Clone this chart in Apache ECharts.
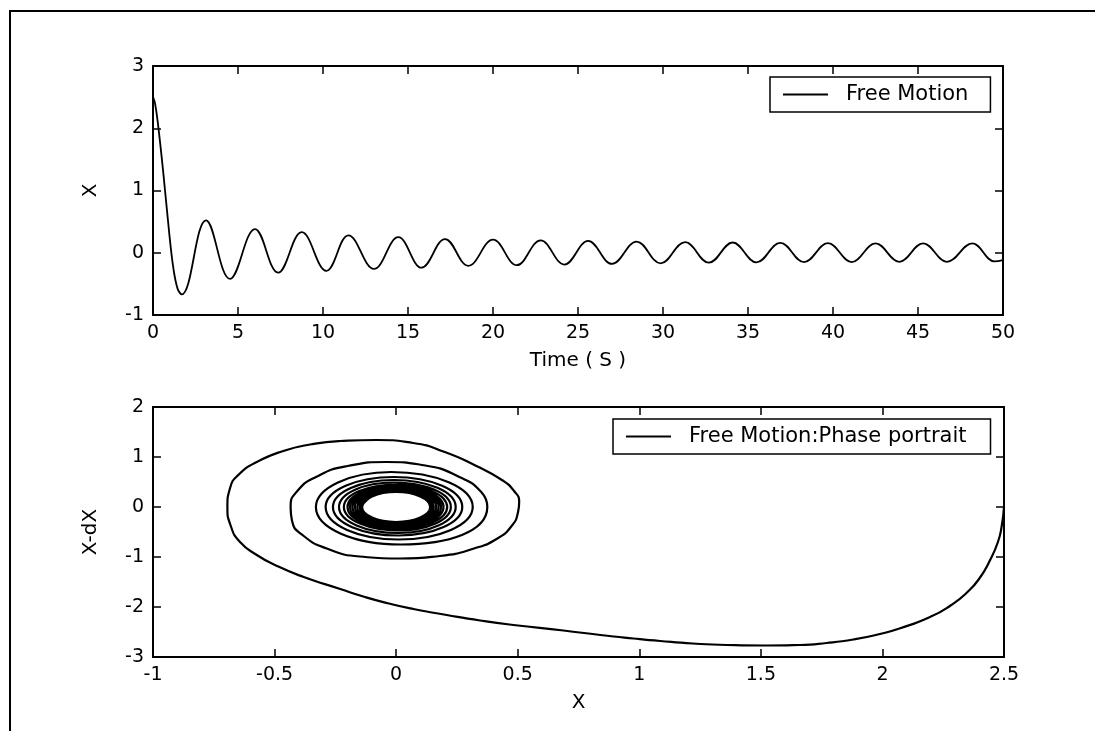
<!DOCTYPE html>
<html>
<head>
<meta charset="utf-8">
<script src="https://cdn.jsdelivr.net/npm/echarts@6/dist/echarts.min.js"></script>
<style>
html, body { margin: 0; padding: 0; background: #fff; }
#chart { width: 1095px; height: 731px; }
</style>
</head>
<body>
<div id="chart"></div>
<script>
// free motion x(t): start of the fall, then each peak / trough
var timeResponse = [
  [0, 2.5], [0.12, 2.4], [0.3, 2.05], [0.6, 1.3], [0.96, 0.3], [1.2, -0.25], [1.45, -0.58], [1.69, -0.67],
  [3.12, 0.52], [4.53, -0.42], [6.0, 0.38], [7.36, -0.32], [8.75, 0.33], [10.2, -0.29],
  [11.5, 0.28], [13.0, -0.26], [14.43, 0.25], [15.8, -0.24], [17.18, 0.22], [18.55, -0.21],
  [20.0, 0.21], [21.4, -0.2], [22.8, 0.2], [24.2, -0.19], [25.6, 0.19], [27.0, -0.18],
  [28.45, 0.18], [29.86, -0.17], [31.3, 0.17], [32.7, -0.16], [34.1, 0.165], [35.5, -0.155],
  [36.9, 0.16], [38.3, -0.15], [39.7, 0.155], [41.1, -0.15], [42.5, 0.15], [43.9, -0.145],
  [45.3, 0.15], [46.7, -0.145], [48.2, 0.15], [49.5, -0.14], [50, -0.12]
];

// phase portrait (x, dx): the big first swing, traced point by point
var phaseSwing = [
  [2.5, 0], [2.49, -0.4], [2.475, -0.7], [2.443, -1.06], [2.4, -1.42], [2.35, -1.7], [2.28, -1.97],
  [2.196, -2.2], [2.07, -2.43], [1.99, -2.54], [1.88, -2.65], [1.77, -2.72], [1.66, -2.76],
  [1.52, -2.77], [1.36, -2.76], [1.22, -2.73], [1.086, -2.68], [0.976, -2.63], [0.84, -2.56],
  [0.688, -2.47], [0.482, -2.36], [0.345, -2.27], [0.208, -2.16], [0.071, -2.04], [-0.03, -1.93],
  [-0.135, -1.79], [-0.23, -1.64], [-0.38, -1.4], [-0.49, -1.18], [-0.573, -0.96], [-0.642, -0.7],
  [-0.68, -0.38], [-0.694, 0.0], [-0.683, 0.38], [-0.645, 0.66], [-0.573, 0.9], [-0.464, 1.12],
  [-0.354, 1.25], [-0.23, 1.32], [-0.08, 1.34], [0.07, 1.28], [0.2, 1.1], [0.33, 0.82],
  [0.435, 0.54], [0.485, 0.32], [0.506, 0.1], [0.5, -0.13], [0.475, -0.38], [0.42, -0.62],
  [0.32, -0.83], [0.18, -0.98], [0.016, -1.03], [-0.15, -0.99], [-0.285, -0.83], [-0.38, -0.58],
  [-0.428, -0.28], [-0.434, 0.0], [-0.41, 0.3], [-0.33, 0.6], [-0.2, 0.82], [-0.04, 0.9],
  [0.12, 0.83], [0.26, 0.6], [0.35, 0.3], [0.375, 0.0]
];

// phase portrait: the inner loops, by their extremes
var phaseLoops = [
  [0.02, -0.75], [-0.33, 0], [-0.02, 0.7], [0.315, 0], [0.01, -0.65], [-0.29, 0], [-0.01, 0.6],
  [0.272, 0], [0.01, -0.57], [-0.26, 0], [-0.01, 0.54], [0.245, 0], [0.01, -0.52], [-0.235, 0],
  [-0.01, 0.49], [0.225, 0], [0.01, -0.47], [-0.215, 0], [0, 0.45], [0.21, 0], [0, -0.44],
  [-0.2, 0], [0, 0.42], [0.195, 0], [0, -0.41], [-0.19, 0], [0, 0.4], [0.185, 0], [0, -0.39],
  [-0.18, 0], [0, 0.38], [0.175, 0], [0, -0.37], [-0.17, 0], [0, 0.36], [0.165, 0], [0, -0.35],
  [-0.16, 0], [0, 0.34], [0.155, 0], [0, -0.33], [-0.15, 0], [0, 0.32], [0.148, 0], [0, -0.32],
  [-0.145, 0], [0, 0.31], [0.143, 0], [0, -0.31], [-0.14, 0], [0, 0.3], [0.14, 0], [0, -0.3],
  [-0.14, 0], [0, 0.3], [0.14, 0], [0, -0.3], [-0.14, 0], [0, 0.3], [0.14, 0], [0, -0.3],
  [-0.14, 0], [-0.11, 0.18]
];

var FONT = 'DejaVu Sans';
var black = '#000';

function axis(gridIndex, pos, min, max, step, labels, name, gap) {
  return {
    gridIndex: gridIndex,
    type: 'value',
    position: pos,
    min: min, max: max, interval: step,
    axisLine: { show: true, onZero: false, lineStyle: { color: black, width: 2 } },
    axisTick: { show: true, inside: true, length: 8, lineStyle: { color: black, width: 1.5 } },
    axisLabel: { show: labels, color: black, fontFamily: FONT, fontSize: 19, margin: 9 },
    splitLine: { show: false },
    name: name || '',
    nameLocation: 'middle',
    nameGap: gap || 0,
    nameTextStyle: { color: black, fontFamily: FONT, fontSize: 20 }
  };
}

function legendBox(name, left, top, padRight) {
  return {
    data: [name], left: left, top: top,
    padding: [7, padRight, 7, 13],
    icon: 'rect', itemWidth: 45, itemHeight: 2,
    itemStyle: { color: black },
    borderColor: black, borderWidth: 1.5, backgroundColor: '#fff',
    textStyle: { color: black, fontFamily: FONT, fontSize: 21, padding: [0, 0, 0, 13] }
  };
}

var chart = echarts.init(document.getElementById('chart'));
chart.setOption({
  animation: false,
  backgroundColor: '#fff',
  graphic: [{
    type: 'polyline',
    shape: { points: [[10, 760], [10, 11], [1120, 11]] },
    style: { fill: 'none', stroke: black, lineWidth: 2 }
  }],
  grid: [
    { left: 153, top: 66, width: 850, height: 249 },
    { left: 153, top: 407, width: 851, height: 250 }
  ],
  xAxis: [
    axis(0, 'bottom', 0, 50, 5, true, 'Time ( S )', 36),
    axis(0, 'top', 0, 50, 5, false),
    axis(1, 'bottom', -1, 2.5, 0.5, true, 'X', 36),
    axis(1, 'top', -1, 2.5, 0.5, false)
  ],
  yAxis: [
    axis(0, 'left', -1, 3, 1, true, 'X', 52),
    axis(0, 'right', -1, 3, 1, false),
    axis(1, 'left', -3, 2, 1, true, 'X-dX', 52),
    axis(1, 'right', -3, 2, 1, false)
  ],
  legend: [
    legendBox('Free Motion', 770, 77, 22),
    legendBox('Free Motion:Phase portrait', 613, 419, 24)
  ],
  series: [
    {
      name: 'Free Motion', type: 'line', xAxisIndex: 0, yAxisIndex: 0,
      data: timeResponse, showSymbol: false, symbol: 'none', smooth: 0.4,
      lineStyle: { color: black, width: 1.8 }, itemStyle: { color: black }
    },
    {
      name: 'Free Motion:Phase portrait', type: 'line', xAxisIndex: 2, yAxisIndex: 2,
      data: phaseSwing.concat(phaseLoops), showSymbol: false, symbol: 'none', smooth: 0.55,
      lineStyle: { color: black, width: 2.2 }, itemStyle: { color: black }
    }
  ]
});
</script>
</body>
</html>
